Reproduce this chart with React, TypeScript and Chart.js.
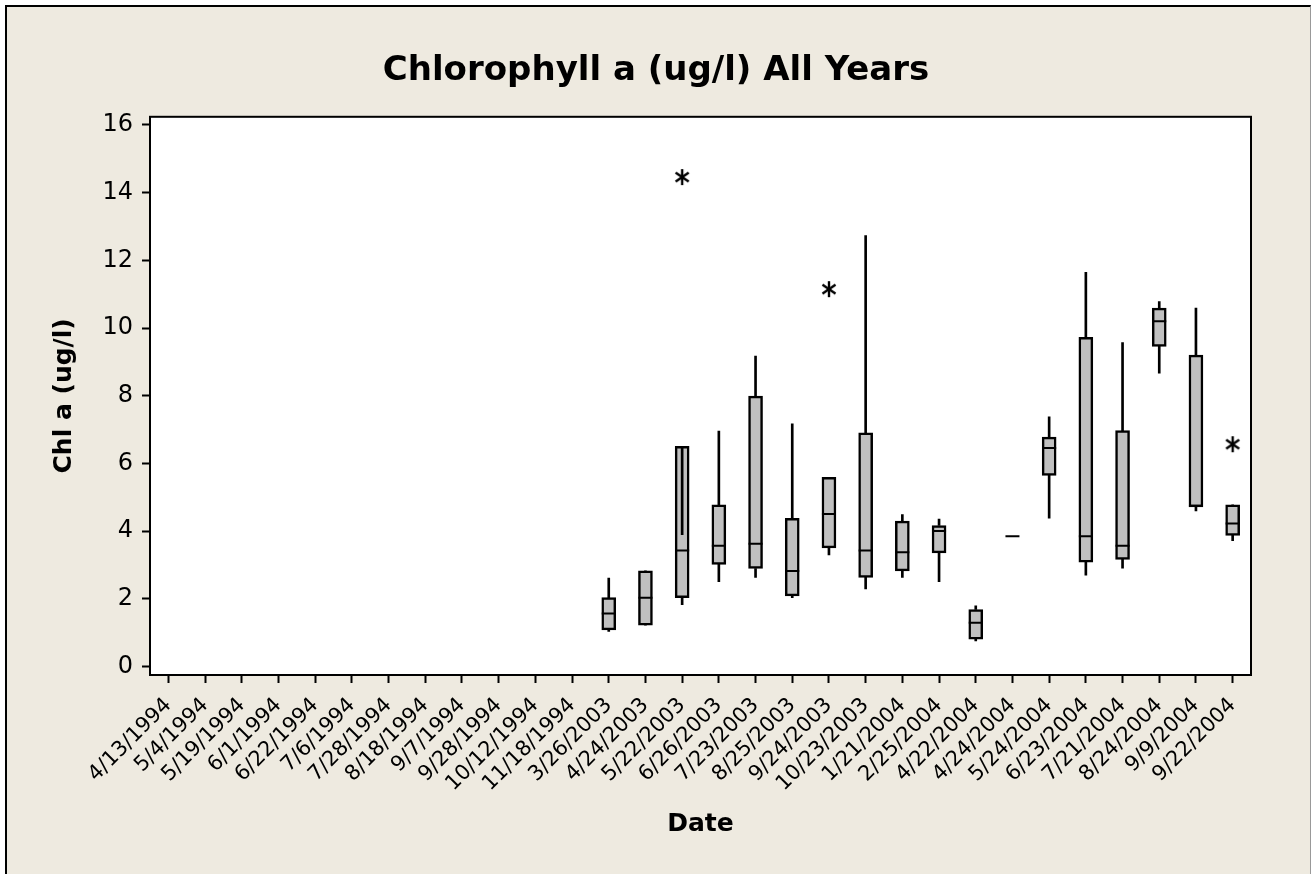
import React, { useEffect, useRef } from 'react';
import { Chart, registerables } from 'chart.js';

Chart.register(...registerables);

const chartTitle = 'Chlorophyll a (ug/l) All Years';
const xAxisTitle = 'Date';
const yAxisTitle = 'Chl a (ug/l)';

const dateLabels = [
  '4/13/1994', '5/4/1994', '5/19/1994', '6/1/1994', '6/22/1994', '7/6/1994',
  '7/28/1994', '8/18/1994', '9/7/1994', '9/28/1994', '10/12/1994', '11/18/1994',
  '3/26/2003', '4/24/2003', '5/22/2003', '6/26/2003', '7/23/2003', '8/25/2003',
  '9/24/2003', '10/23/2003', '1/21/2004', '2/25/2004', '4/22/2004', '4/24/2004',
  '5/24/2004', '6/23/2004', '7/21/2004', '8/24/2004', '9/9/2004', '9/22/2004',
];

const E = null;
// first quartile
const q1Values = [E, E, E, E, E, E, E, E, E, E, E, E,
  1.09, 1.23, 2.04, 3.02, 2.90, 2.09, 3.51, 2.64, 2.83, 3.36, 0.81, E,
  5.65, 3.09, 3.17, 9.46, 4.72, 3.88];
// third quartile
const q3Values = [E, E, E, E, E, E, E, E, E, E, E, E,
  2.04, 2.83, 6.51, 4.78, 7.99, 4.38, 5.59, 6.91, 4.30, 4.17, 1.69, E,
  6.78, 9.73, 6.97, 10.59, 9.20, 4.78];
// medians
const medianValues = [E, E, E, E, E, E, E, E, E, E, E, E,
  1.57, 2.04, 3.43, 3.57, 3.63, 2.83, 4.51, 3.43, 3.38, 4.01, 1.30, 3.85,
  6.46, 3.85, 3.57, 10.20, 4.75, 4.23];
// lower whisker ends
const whiskerLowValues = [E, E, E, E, E, E, E, E, E, E, E, E,
  1.04, 1.23, 1.83, 2.51, 2.64, 2.04, 3.30, 2.30, 2.64, 2.51, 0.76, E,
  4.39, 2.70, 2.91, 8.67, 4.60, 3.72];
// upper whisker ends
const whiskerHighValues = [E, E, E, E, E, E, E, E, E, E, E, E,
  2.62, 2.83, 3.90, 6.96, 9.17, 7.17, 5.59, 12.73, 4.49, 4.36, 1.80, E,
  7.38, 11.65, 9.57, 10.78, 10.59, 4.78];
// outliers
const outlierValues = [E, E, E, E, E, E, E, E, E, E, E, E,
  E, E, 14.46, E, E, E, 11.15, E, E, E, E, E,
  E, E, E, E, E, 6.57];

const yTicks = [0, 2, 4, 6, 8, 10, 12, 14, 16];

function makeAsterisk(): HTMLCanvasElement {
  const c = document.createElement('canvas');
  c.width = 20;
  c.height = 20;
  const g = c.getContext('2d')!;
  g.strokeStyle = '#000';
  g.lineWidth = 2.4;
  g.lineCap = 'butt';
  const cx = 10, cy = 10, r = 8;
  for (const deg of [90, 35, 145]) {
    const a = (deg * Math.PI) / 180;
    g.beginPath();
    g.moveTo(cx - r * Math.cos(a), cy - r * Math.sin(a));
    g.lineTo(cx + r * Math.cos(a), cy + r * Math.sin(a));
    g.stroke();
  }
  return c;
}

const plotFrame = {
  id: 'plotFrame',
  beforeDraw(chart: any) {
    const { ctx, chartArea: a } = chart;
    ctx.save();
    ctx.fillStyle = '#ffffff';
    ctx.fillRect(a.left, a.top, a.right - a.left, a.bottom - a.top);
    ctx.restore();
  },
  afterDraw(chart: any) {
    const { ctx, chartArea: a } = chart;
    ctx.save();
    ctx.strokeStyle = '#000';
    ctx.lineWidth = 2;
    ctx.strokeRect(a.left, a.top, a.right - a.left, a.bottom - a.top);
    ctx.restore();
  },
};

export default function App() {
  const ref = useRef<HTMLCanvasElement>(null);

  useEffect(() => {
    if (!ref.current) return;
    Chart.defaults.font.family = 'DejaVu Sans';
    Chart.defaults.color = '#000';
    const asterisk = makeAsterisk();

    const boxData = dateLabels.map((_, i) =>
      q1Values[i] == null || q3Values[i] == null ? null : [q1Values[i], q3Values[i]]);
    const lowWhisker = dateLabels.map((_, i) =>
      q1Values[i] == null || whiskerLowValues[i] == null ? null : [whiskerLowValues[i], q1Values[i]]);
    const highWhisker = dateLabels.map((_, i) =>
      q3Values[i] == null || whiskerHighValues[i] == null ? null : [q3Values[i], whiskerHighValues[i]]);

    const chart = new Chart(ref.current, {
      type: 'bar',
      data: {
        labels: dateLabels,
        datasets: [
          {
            type: 'line',
            label: 'Outliers',
            data: outlierValues as any,
            showLine: false,
            pointStyle: asterisk as any,
            pointRadius: 10,
            order: 0,
          },
          {
            type: 'line',
            label: 'Median',
            data: medianValues as any,
            showLine: false,
            pointStyle: 'line',
            pointRadius: 7,
            pointBorderWidth: 2,
            pointBorderColor: '#000',
            pointBackgroundColor: '#000',
            order: 1,
          },
          {
            type: 'bar',
            label: 'Upper whisker',
            data: highWhisker as any,
            backgroundColor: '#000',
            borderWidth: 0,
            barThickness: 2,
            grouped: false,
            order: 2,
          },
          {
            type: 'bar',
            label: 'Lower whisker',
            data: lowWhisker as any,
            backgroundColor: '#000',
            borderWidth: 0,
            barThickness: 2,
            grouped: false,
            order: 2,
          },
          {
            type: 'bar',
            label: 'IQR box',
            data: boxData as any,
            backgroundColor: '#C0C0C0',
            borderColor: '#000',
            borderWidth: 2.5,
            borderSkipped: false,
            barThickness: 14,
            grouped: false,
            order: 3,
          },
        ],
      },
      options: {
        responsive: false,
        animation: false,
        events: [],
        layout: { padding: { left: 0, right: 0, top: 0, bottom: 0 } },
        plugins: {
          legend: { display: false },
          tooltip: { enabled: false },
          title: {
            display: true,
            text: chartTitle,
            color: '#000',
            font: { size: 34, weight: 'bold', family: 'DejaVu Sans' },
            padding: { top: 51, bottom: 25 },
          },
        },
        scales: {
          x: {
            type: 'category',
            offset: true,
            grid: {
              offset: false,
              drawOnChartArea: false,
              drawTicks: true,
              tickLength: 8,
              tickWidth: 2,
              tickColor: '#000',
            },
            border: { color: '#000', width: 2 },
            ticks: {
              autoSkip: false,
              maxRotation: 45,
              minRotation: 45,
              padding: 10,
              color: '#000',
              font: { size: 21, family: 'DejaVu Sans' },
            },
            title: {
              display: true,
              text: xAxisTitle,
              color: '#000',
              font: { size: 25, weight: 'bold', family: 'DejaVu Sans' },
              padding: { top: 0, bottom: 35 },
            },
            afterFit: (s: any) => { s.height = 199; },
          },
          y: {
            type: 'linear',
            position: 'left',
            min: -0.245,
            max: 16.24,
            grid: {
              drawOnChartArea: false,
              drawTicks: true,
              tickLength: 8,
              tickWidth: 2,
              tickColor: '#000',
            },
            border: { color: '#000', width: 2 },
            ticks: {
              padding: 9,
              color: '#000',
              font: { size: 24, family: 'DejaVu Sans' },
            },
            afterBuildTicks: (s: any) => { s.ticks = yTicks.map((v) => ({ value: v })); },
            title: {
              display: true,
              text: yAxisTitle,
              color: '#000',
              font: { size: 25, weight: 'bold', family: 'DejaVu Sans' },
              padding: { top: 49, bottom: 0 },
            },
            afterFit: (s: any) => { s.width = 150; },
          },
          yRight: {
            type: 'linear',
            position: 'right',
            display: true,
            grid: { display: false },
            border: { display: false },
            ticks: { display: false },
            afterFit: (s: any) => { s.width = 61; },
          },
        },
      },
      plugins: [plotFrame],
    } as any);

    return () => chart.destroy();
  }, []);

  return (
    <div style={{ position: 'absolute', left: 0, top: 0, width: 1312, height: 874, background: '#fff', overflow: 'hidden' }}>
      <div
        style={{
          position: 'absolute', left: 5, top: 5, width: 1306, height: 880,
          boxSizing: 'border-box', background: '#EEEAE0',
          borderLeft: '2px solid #000', borderTop: '2px solid #000', borderRight: '1px solid #999',
        }}
      />
      <canvas ref={ref} width={1312} height={874} style={{ position: 'absolute', left: 0, top: 0 }} />
    </div>
  );
}
